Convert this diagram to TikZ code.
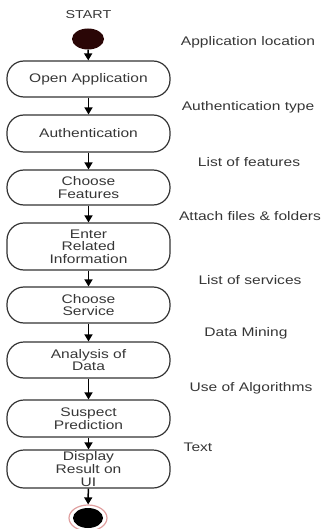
\documentclass[tikz,border=0pt]{standalone}
\usepackage{fontspec}
\setmainfont{Liberation Sans}[FakeStretch=1.25]
\usetikzlibrary{arrows.meta,shapes.geometric}
\definecolor{inkgray}{HTML}{363636}
\definecolor{linegray}{HTML}{333333}
\definecolor{startdark}{HTML}{2A0606}
\definecolor{ringpink}{HTML}{E0A0A0}
\tikzset{
  activity/.style={draw=linegray, line width=1.2bp, rounded corners=17bp, minimum width=163bp,
    minimum height=#1, inner sep=0pt, align=center, text=inkgray,
    font=\fontsize{12.5}{12.5}\selectfont},
  activity/.default=36bp,
  remark/.style={text=inkgray, inner sep=0pt, font=\fontsize{12.5}{12.5}\selectfont},
  flow/.style={draw=black, line width=1.5bp, -{Triangle[width=8bp,length=7bp]}}
}
\begin{document}
\begin{tikzpicture}[x=1bp, y=-1bp]
			%%%%% START %%%%%
			\useasboundingbox (0, 0) rectangle (325, 529);
			
			\node[remark, font=\fontsize{11.5}{11.5}\selectfont] (title) at (88.5, 15) {START};
			\node[ellipse, fill=startdark, minimum width=32bp, minimum height=21bp, inner sep=0pt] (start) at (88, 39) {};
			
			\node[activity] (open) at (88.5, 79) {Open Application};
			\node[activity=37bp] (auth) at (88.5, 133.5) {Authentication};
			\node[activity=35bp] (features) at (88.5, 187.5) {Choose\\Features};
			\node[activity=47bp] (enter) at (88.5, 246.5) {Enter\\Related\\Information};
			\node[activity] (service) at (88.5, 305) {Choose\\Service};
			\node[activity] (analysis) at (88.5, 360) {Analysis of\\Data};
			\node[activity=37bp] (suspect) at (88.5, 418.5) {Suspect\\Prediction};
			\node[activity=38bp, font=\fontsize{12.5}{13}\selectfont] (display) at (88.5, 469) {Display\\Result on\\UI};
			
			\node[ellipse, draw=ringpink, line width=1.2bp, fill=white, minimum width=38bp, minimum height=26bp] (stop) at (88, 518) {};
			\node[ellipse, fill=black, minimum width=30bp, minimum height=20bp, inner sep=0pt] (stopdot) at (88, 518) {};
			
			\draw[flow] (start) -- (open);
			\draw[flow] (open) -- (auth);
			\draw[flow] (auth) -- (features);
			\draw[flow] (features) -- (enter);
			\draw[flow] (enter) -- (service);
			\draw[flow] (service) -- (analysis);
			\draw[flow] (analysis) -- (suspect);
			\draw[flow] (suspect) -- (display);
			\draw[flow] (display) -- (stop);
			
			\node[remark] (location) at (248, 42) {Application location};
			\node[remark] (authtype) at (248, 107) {Authentication type};
			\node[remark] (featlist) at (249, 162) {List of features};
			\node[remark] (attach) at (250, 216) {Attach files \& folders};
			\node[remark] (servlist) at (250, 280) {List of services};
			\node[remark] (mining) at (246, 333) {Data Mining};
			\node[remark] (algos) at (251, 388) {Use of Algorithms};
			\node[remark] (textout) at (198, 447) {Text};
			
			%%%%% END %%%%%
\end{tikzpicture}
\end{document}
